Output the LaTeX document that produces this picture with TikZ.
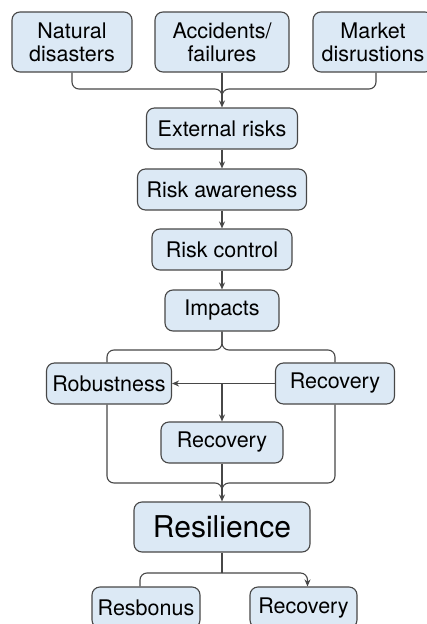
\documentclass[tikz,border=0pt]{standalone}
\usepackage{fontspec}
\setmainfont{TeX Gyre Heros}
\usepackage{tikz}
\usetikzlibrary{arrows.meta}
\definecolor{hellblau}{HTML}{DCE9F5}
\definecolor{rahmen}{HTML}{474747}

\begin{document}
\begin{tikzpicture}[
    x=1pt, y=-1pt,
    every node/.style={font=\fontsize{21.5}{23}\selectfont},
    kasten/.style={draw=rahmen, fill=hellblau, line width=1.1pt,
      rounded corners=8pt, align=center, inner sep=0pt, minimum height=41pt},
    linie/.style={draw=rahmen, line width=1.1pt, rounded corners=7pt},
    pfeil/.style={draw=rahmen, line width=1.1pt,
      -{Stealth[length=7pt,width=6pt]}},
  ]
  \useasboundingbox (0,0) rectangle (427,624);

  % Ursachen
  \node[kasten, minimum width=120pt, minimum height=60pt] (natur) at (72,42) {Natural\\disasters};
  \node[kasten, minimum width=134pt, minimum height=60pt] (unfall) at (222,42) {Accidents/\\failures};
  \node[kasten, minimum width=120pt, minimum height=60pt] (markt) at (373,42) {Market\\disrustions};

  % Kette
  \node[kasten, minimum width=151pt] (extern) at (222,128.5) {External risks};
  \node[kasten, minimum width=169pt] (bewusst) at (222,189.5) {Risk awareness};
  \node[kasten, minimum width=140pt] (kontrolle) at (222,249.5) {Risk control};
  \node[kasten, minimum width=114pt] (folgen) at (222,310.5) {Impacts};

  % Verzweigung
  \node[kasten, minimum width=125pt] (robust) at (109,383.5) {Robustness};
  \node[kasten, minimum width=119pt] (erholR) at (335,383.5) {Recovery};
  \node[kasten, minimum width=122pt] (erholM) at (222,442.5) {Recovery};

  \node[kasten, minimum width=176pt, minimum height=50pt,
        font=\fontsize{30}{34}\selectfont] (resilienz) at (222,527) {Resilience};

  \node[kasten, minimum width=108pt] (antwort) at (146,607.5) {Resbonus};
  \node[kasten, minimum width=107pt] (erholU) at (303.5,607.5) {Recovery};

  % Zusammenfuehrung oben
  \coordinate (k1) at (222,89);
  \coordinate (k1u) at (222,98);
  \draw[linie] (natur.south) |- (k1) -- (k1u);
  \draw[linie] ([xshift=3pt]markt.south) |- (k1) -- (k1u);
  \draw[pfeil] (unfall.south) -- (extern.north);

  \draw[pfeil] (extern) -- (bewusst);
  \draw[pfeil] (bewusst) -- (kontrolle);
  \draw[pfeil] (kontrolle) -- (folgen);

  % Klammer unter Impacts
  \coordinate (k2) at (222,350);
  \draw[linie] ([xshift=-2pt]robust.north) |- (k2) -- (folgen.south);
  \draw[linie] (erholR.north) |- (k2) -- (folgen.south);

  \draw[pfeil] (erholR) -- (robust);
  \coordinate (k3) at (erholM.north |- robust.east);
  \draw[pfeil] (k3) -- (erholM.north);

  % Zusammenfuehrung zur Resilienz
  \coordinate (k4) at (222,483);
  \coordinate (k4u) at (222,491);
  \draw[linie] ([xshift=-2pt]robust.south) |- (k4) -- (k4u);
  \draw[linie] (erholR.south) |- (k4) -- (k4u);
  \draw[pfeil] (erholM) -- (resilienz);

  % unten
  \coordinate (k5) at (222,573);
  \draw[linie] (resilienz.south) -- (k5);
  \draw[linie] (k5) -| ([xshift=-6pt]antwort.north);
  \draw[linie, pfeil] (k5) -| ([xshift=4pt]erholU.north);
\end{tikzpicture}
\end{document}
